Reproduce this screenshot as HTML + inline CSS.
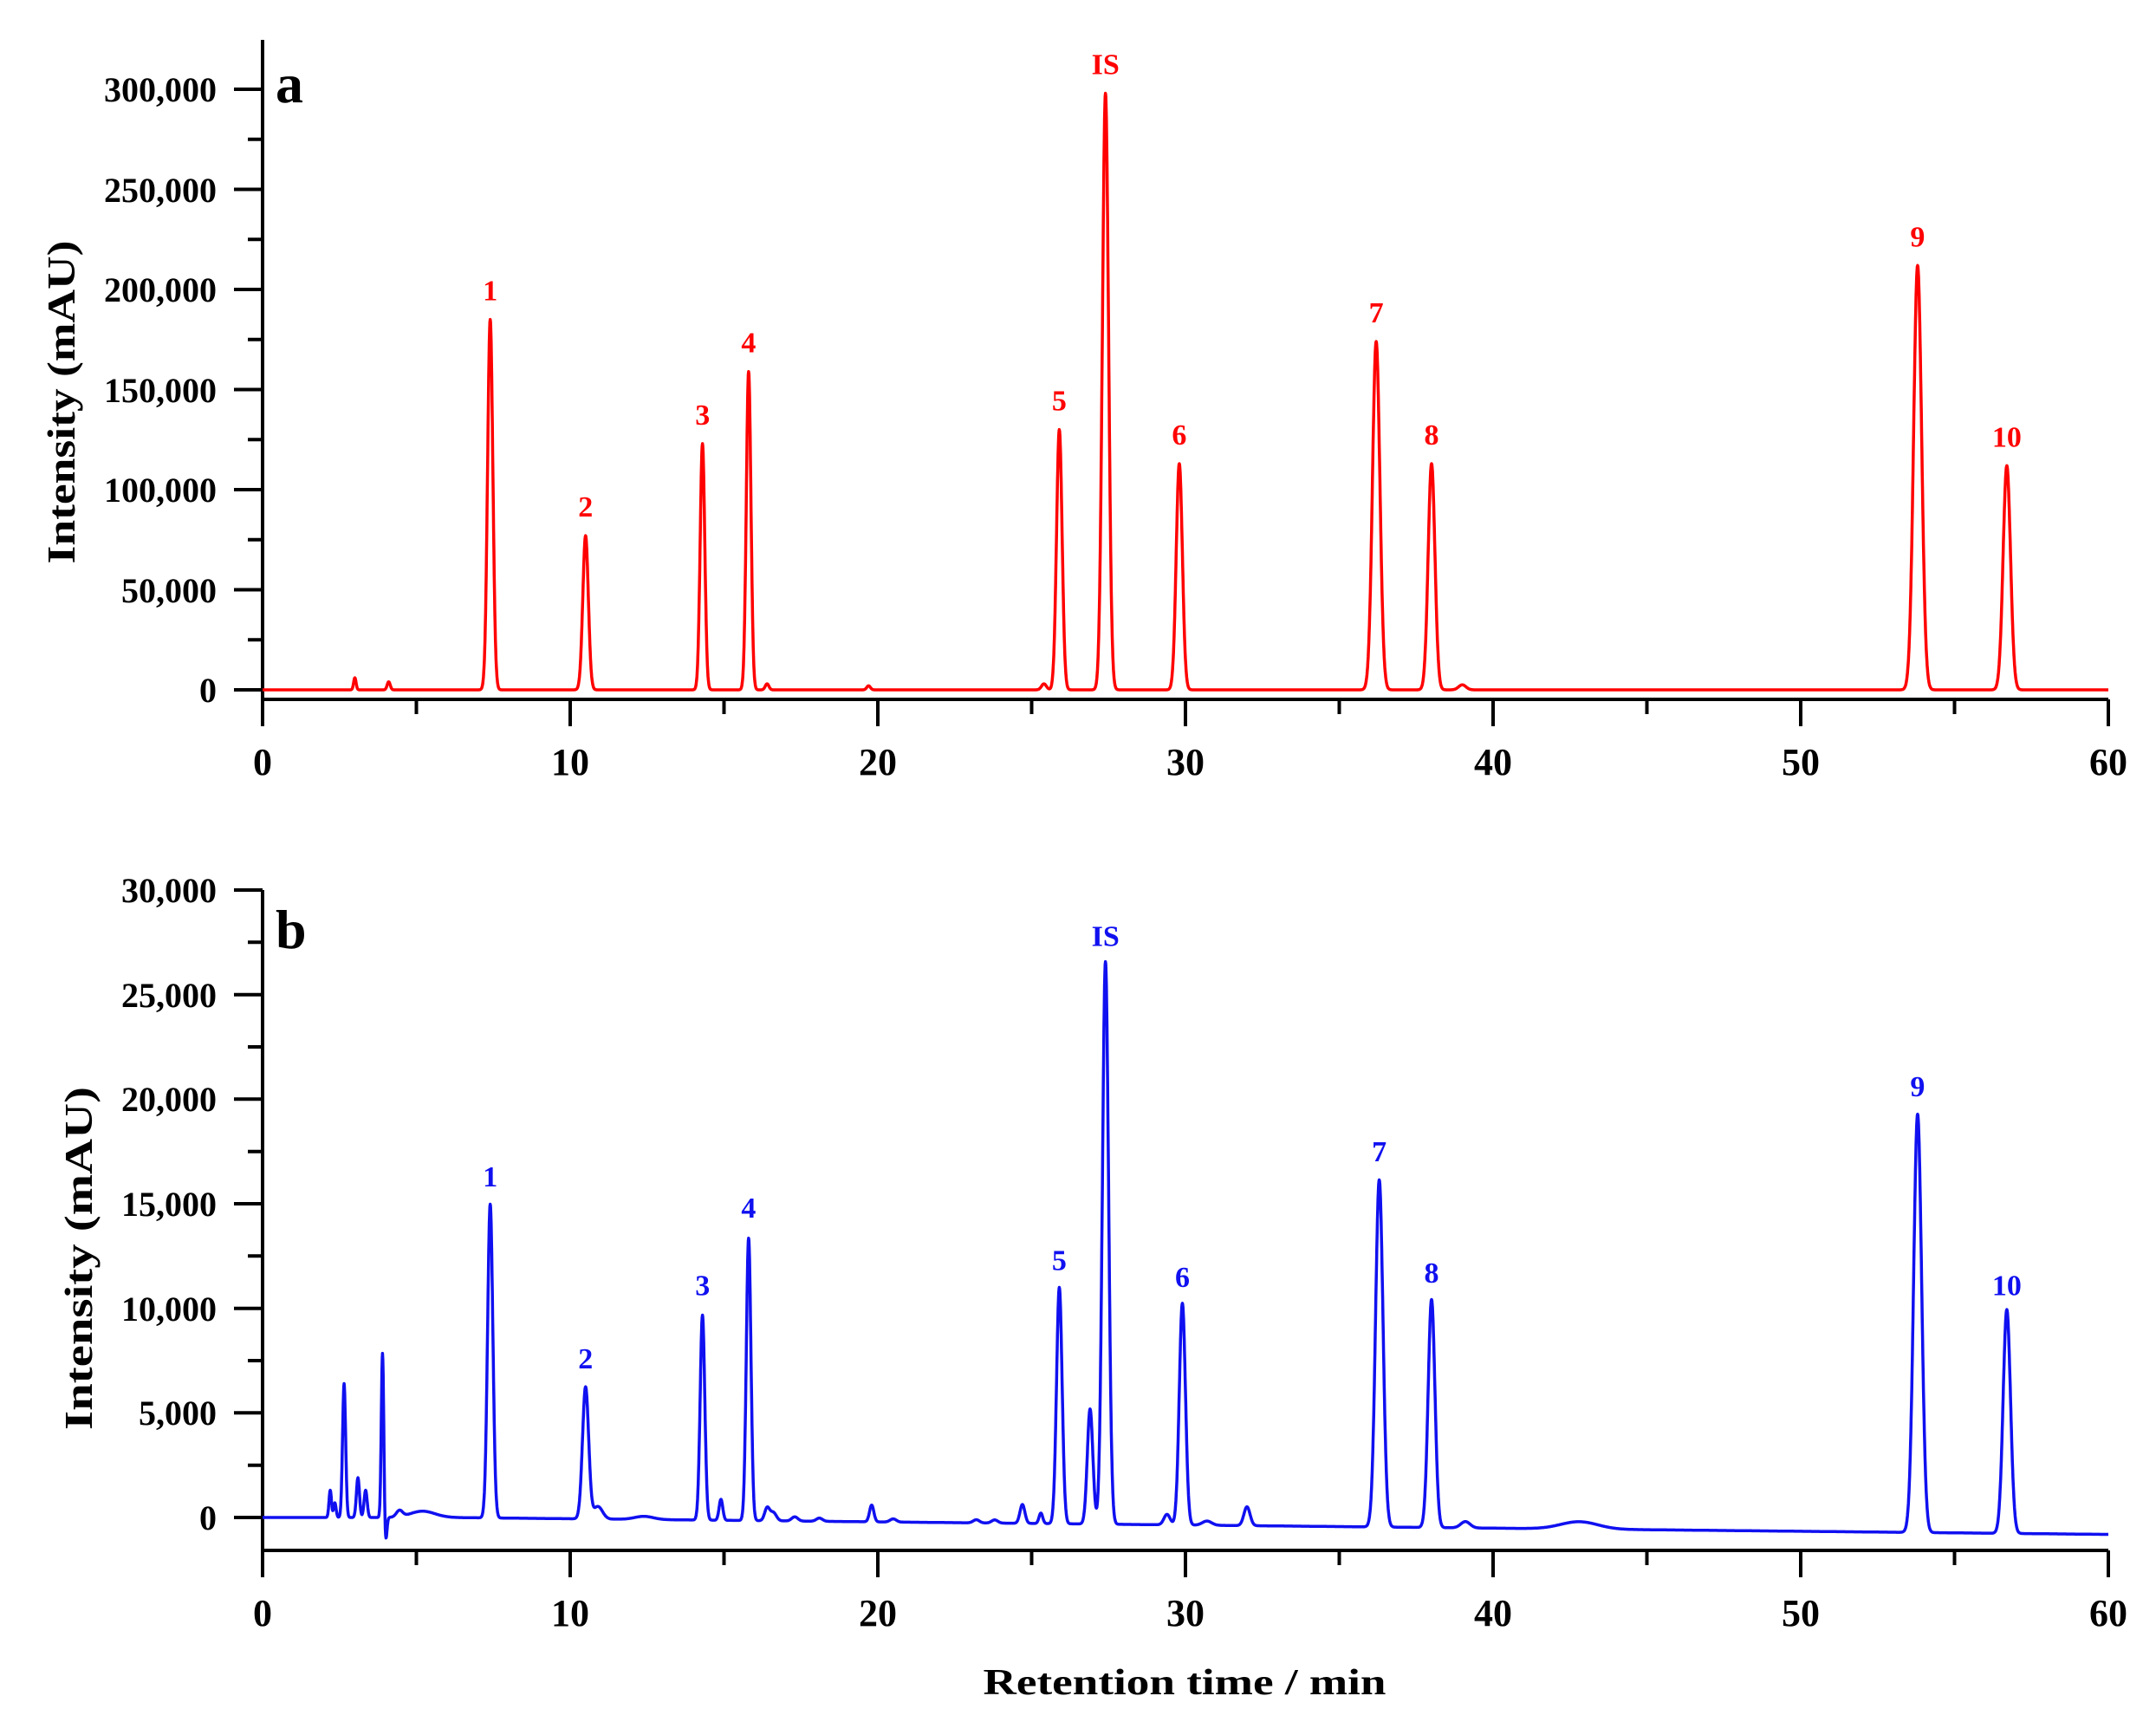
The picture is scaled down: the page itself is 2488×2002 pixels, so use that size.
<!DOCTYPE html>
<html><head><meta charset="utf-8"><style>
html,body{margin:0;padding:0;background:#fff;}
svg{display:block;}
text{font-family:"Liberation Serif",serif;font-weight:bold;}
</style></head><body>
<svg id="s" width="2488" height="2002" viewBox="0 0 2488 2002" xmlns="http://www.w3.org/2000/svg">
<rect width="2488" height="2002" fill="#fff"/>
<g id="axes" stroke="#000" stroke-width="4" fill="none"></g>
<path id="pa" fill="none" stroke="#ff0000" stroke-width="3.5" stroke-linejoin="round"/>
<path id="pb" fill="none" stroke="#1010f0" stroke-width="3.5" stroke-linejoin="round"/>
<g font-size="40" text-anchor="end" fill="#000">
<text x="250" y="117">300,000</text>
<text x="250" y="233">250,000</text>
<text x="250" y="348">200,000</text>
<text x="250" y="464">150,000</text>
<text x="250" y="579">100,000</text>
<text x="250" y="695">50,000</text>
<text x="250" y="810">0</text>
<text x="250" y="1041">30,000</text>
<text x="250" y="1162">25,000</text>
<text x="250" y="1282">20,000</text>
<text x="250" y="1403">15,000</text>
<text x="250" y="1524">10,000</text>
<text x="250" y="1644">5,000</text>
<text x="250" y="1765">0</text>
</g>
<g font-size="44" text-anchor="middle" fill="#000">
<text x="303" y="894">0</text><text x="658" y="894">10</text><text x="1013" y="894">20</text><text x="1368" y="894">30</text><text x="1723" y="894">40</text><text x="2078" y="894">50</text><text x="2433" y="894">60</text>
<text x="303" y="1876">0</text><text x="658" y="1876">10</text><text x="1013" y="1876">20</text><text x="1368" y="1876">30</text><text x="1723" y="1876">40</text><text x="2078" y="1876">50</text><text x="2433" y="1876">60</text>
</g>
<text x="1367" y="1955" font-size="42" text-anchor="middle" textLength="465" lengthAdjust="spacingAndGlyphs">Retention time / min</text>
<text transform="translate(86,464) rotate(-90)" font-size="46" text-anchor="middle" textLength="373" lengthAdjust="spacingAndGlyphs">Intensity (mAU)</text>
<text transform="translate(106,1452) rotate(-90)" font-size="46" text-anchor="middle" textLength="396" lengthAdjust="spacingAndGlyphs">Intensity (mAU)</text>
<text x="318" y="118" font-size="64">a</text>
<text x="318" y="1094" font-size="64">b</text>
<g id="la" font-size="34" text-anchor="middle" fill="#ff0000"></g>
<g id="lb" font-size="34" text-anchor="middle" fill="#1010f0"></g>
</svg>
<script>
var X=function(t){return 303+t*35.5;};
var YA=function(v){return 796-v*693/300000;};
var YB=function(v){return 1751-v*724/30000;};
var ax=document.getElementById('axes'),d='';
d+='M303 46V807M303 807H2433';
for(var v=0;v<=325000;v+=25000){var y=YA(v);if(y<46)break;d+='M303 '+y.toFixed(1)+'H'+(v%50000==0?270:286);}
for(var t=0;t<=60;t+=5){d+='M'+X(t)+' 807V'+(t%10==0?838:824);}
d+='M303 1027V1789M303 1789H2433';
for(var v=0;v<=30000;v+=2500){var y=YB(v);d+='M303 '+y.toFixed(1)+'H'+(v%5000==0?270:286);}
for(var t=0;t<=60;t+=5){d+='M'+X(t)+' 1789V'+(t%10==0?1820:1806);}
ax.innerHTML='<path d="'+d+'"/>';

var A=[[3.0,6000,0.04],[4.1,4000,0.05],[7.4,185000,0.085],[10.5,77000,0.09],[14.3,123000,0.075],[15.8,159000,0.075],[16.4,3000,0.06],[19.7,2000,0.06],[25.4,3000,0.08],[25.9,130000,0.09],[27.4,298000,0.1],[29.8,113000,0.1],[36.2,174000,0.12],[38.0,113000,0.11],[39.0,2500,0.12],[53.8,212000,0.13],[56.7,112000,0.12]];
var B=[[2.2,1300,0.04],[2.35,700,0.04],[2.65,6400,0.05],[3.1,1900,0.05],[3.35,1300,0.05],[3.9,7900,0.04],[4.45,300,0.1],[5.2,300,0.4],[7.4,15000,0.085],[10.5,6300,0.1],[10.9,600,0.15],[12.4,150,0.3],[14.3,9800,0.075],[14.9,1000,0.06],[15.8,13500,0.075],[16.4,600,0.08],[16.6,400,0.1],[17.3,200,0.1],[18.1,150,0.1],[19.8,800,0.07],[20.5,150,0.1],[23.2,150,0.1],[23.8,150,0.1],[24.7,900,0.08],[25.3,500,0.06],[25.9,11300,0.09],[26.9,5500,0.09],[27.4,26900,0.1],[29.4,500,0.1],[29.9,10600,0.1],[30.7,200,0.15],[32.0,900,0.1],[36.3,16600,0.12],[38.0,10900,0.11],[39.1,300,0.15],[42.8,350,0.6],[53.8,20000,0.13],[56.7,10700,0.12]];
function base(t){if(t<6)return 0;return -(t-6)*15;}
function build(P,Y,bf,dip){var s='';for(var i=0;i<=6000;i++){var t=i/100,v=bf?bf(t):0;for(var k=0;k<P.length;k++){var p=P[k],z=(t-p[0])/p[2];if(Math.abs(z)<6)v+=p[1]*Math.exp(-0.5*z*z);}
if(dip){var z=(t-4.0)/0.04;v-=1200*Math.exp(-0.5*z*z);}
s+=(i?'L':'M')+X(t).toFixed(1)+' '+Y(v).toFixed(1);}return s;}
document.getElementById('pa').setAttribute('d',build(A,YA,null,false));
document.getElementById('pb').setAttribute('d',build(B,YB,base,true));
var LA=[['1',7.4,185000],['2',10.5,77000],['3',14.3,123000],['4',15.8,159000],['5',25.9,130000],['IS',27.4,298000],['6',29.8,113000],['7',36.2,174000],['8',38.0,113000],['9',53.8,212000],['10',56.7,112000]];
var LB=[['1',7.4,15000],['2',10.5,6300],['3',14.3,9800],['4',15.8,13500],['5',25.9,11000],['IS',27.4,26500],['6',29.9,10200],['7',36.3,16200],['8',38.0,10400],['9',53.8,19300],['10',56.7,9800]];
var h='';LA.forEach(function(l){h+='<text x="'+X(l[1]).toFixed(1)+'" y="'+(YA(l[2])-22).toFixed(1)+'">'+l[0]+'</text>';});
document.getElementById('la').innerHTML=h;
h='';LB.forEach(function(l){h+='<text x="'+X(l[1]).toFixed(1)+'" y="'+(YB(l[2])-20).toFixed(1)+'">'+l[0]+'</text>';});
document.getElementById('lb').innerHTML=h;
</script>
</body></html>
